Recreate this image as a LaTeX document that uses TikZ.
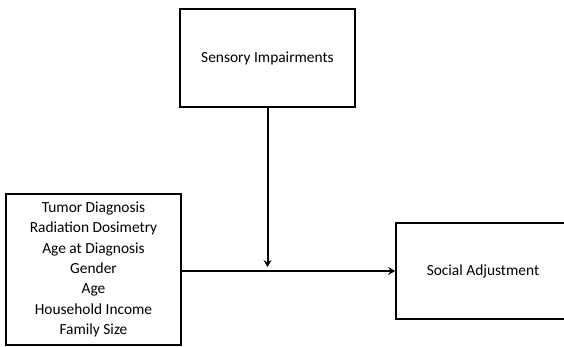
\documentclass[tikz,border=0pt]{standalone}
\usepackage{fontspec}
\setmainfont{Carlito}
\usetikzlibrary{arrows.meta}
\begin{document}
\begin{tikzpicture}[x=1pt,y=-1pt,
  box/.style={draw=black, line width=1.8pt, inner sep=0pt, align=center, font=\fontsize{15.4}{20.3}\selectfont, text=black},
  conn/.style={draw=black, line width=2pt, -{Stealth[length=7pt,width=8pt,inset=2.5pt]}}]
\clip (0,0) rectangle (564,346);
\fill[white] (0,0) rectangle (564,346);
\node[box, minimum width=175pt, minimum height=98pt] (sens) at (267.5,58) {Sensory Impairments};
\node[box, minimum width=175pt, minimum height=151pt] (left) at (93.5,269.5) {Tumor Diagnosis\\Radiation Dosimetry\\Age at Diagnosis\\Gender\\Age\\Household Income\\Family Size};
\node[box, minimum width=174pt, minimum height=96pt] (soc) at (483,271) {Social Adjustment};
\coordinate (lstart) at (left.east |- soc.west);
\draw[conn] (lstart) -- (soc.west);
\draw[conn, shorten >=4pt] (sens.south) -- (sens.south |- soc.west);
\end{tikzpicture}
\end{document}
